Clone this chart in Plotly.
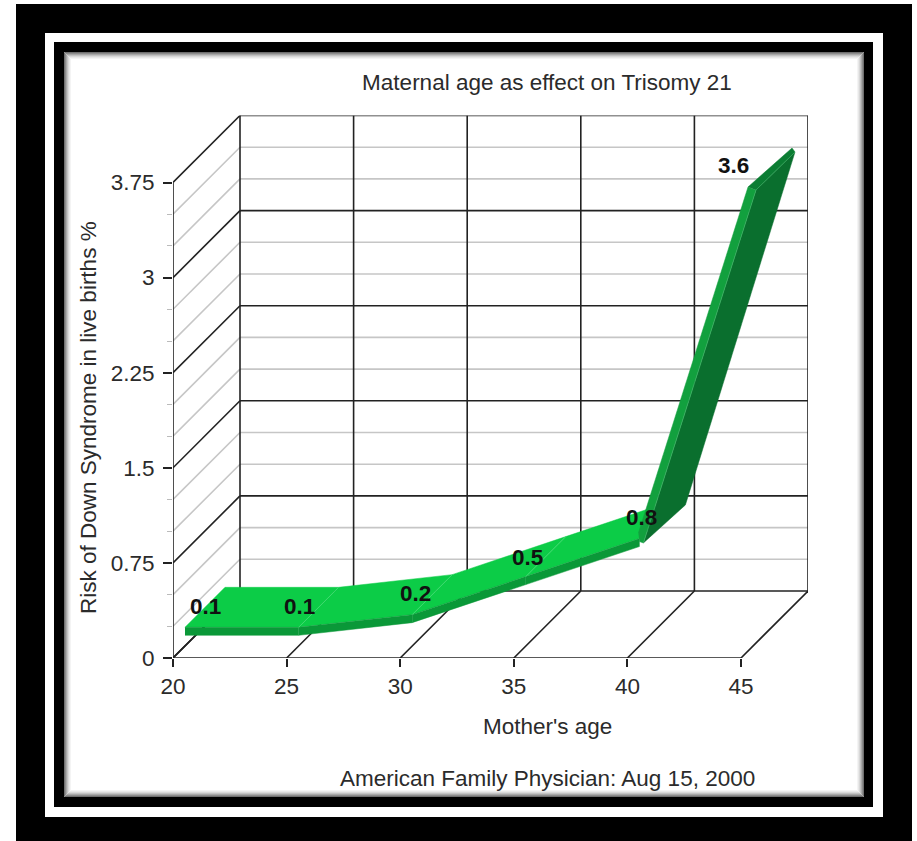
import plotly.graph_objects as go

# ---- data ----
ages = [20, 25, 30, 35, 40, 45]
risk = [0.1, 0.1, 0.2, 0.5, 0.8, 3.6]
risk_labels = ["0.1", "0.1", "0.2", "0.5", "0.8", "3.6"]
y_ticks = [0, 0.75, 1.5, 2.25, 3, 3.75]
y_minor = [0.25, 0.5, 1, 1.25, 1.75, 2, 2.5, 2.75, 3.25, 3.5]
chart_title = "Maternal age as effect on Trisomy 21"
x_title = "Mother's age"
y_title = "Risk of Down Syndrome in live births %"
source = "American Family Physician: Aug 15, 2000"

# ---- page geometry (pixels) ----
W, H = 917, 841
X_L, X_R, Y_B, Y_T = 173, 808, 658, 115.5
PX_PER_YEAR = 568 / 25
PX_PER_UNIT = 475.5 / 3.75
DEPTH = 67
FONT = "Liberation Sans, Arial, sans-serif"
INK = "#2b2b2b"
FS = 22.5


def ox(px):
    return px / PX_PER_YEAR


def oy(px):
    return px / PX_PER_UNIT


def px_x(p):
    return p / W


def px_y(p):
    return 1 - p / H


dx, dy = ox(DEPTH), oy(DEPTH)
fig = go.Figure()


def lines(segments, color, width):
    xs, ys = [], []
    for (x0, y0, x1, y1) in segments:
        xs += [x0, x1, None]
        ys += [y0, y1, None]
    fig.add_trace(go.Scatter(x=xs, y=ys, mode="lines", line=dict(color=color, width=width),
                             hoverinfo="skip", showlegend=False, cliponaxis=False))


def poly(pts, color):
    fig.add_trace(go.Scatter(x=[p[0] for p in pts], y=[p[1] for p in pts], mode="lines",
                             fill="toself", fillcolor=color, line=dict(color=color, width=0.5),
                             hoverinfo="skip", showlegend=False, cliponaxis=False))


# walls
x0, x1 = ages[0], ages[-1]
lines([(x0, v, x0 + dx, v + dy) for v in y_minor] + [(x0 + dx, v + dy, x1 + dx, v + dy) for v in y_minor],
      "#c6c6c6", 1.6)
major = [(x0, v, x0 + dx, v + dy) for v in y_ticks] + [(x0 + dx, v + dy, x1 + dx, v + dy) for v in y_ticks]
major += [(a, 0, a + dx, dy) for a in ages] + [(a + dx, dy, a + dx, 3.75 + dy) for a in ages]
major += [(x0, 0, x1, 0), (x0, 0, x0, 3.75)]
lines(major, "#222222", 1.6)

# ribbon corners, pixel offsets (right, down) from each plotted value
FT = (12, -18)
FB = (12, -10)
BT = (52, -58)
# bevel offsets of the rising last segment
R_FT = (11, -23.6)
R_SEAM = (18, -24)
R_FB = (16, -13.6)
R_CORNER = (12, -15)
R_BB = (58, -51.6)
T_FT = (7, -14.5)
T_FB = (15, -11.5)
T_BT = (51, -53.5)
T_BB = (54, -49.5)


def pt(i, off):
    return (ages[i] + ox(off[0]), risk[i] + oy(-off[1]))


BRIGHT, FRONT, MID, DARK, CAP = "#0ccc47", "#0a9838", "#12a03e", "#0a6f2e", "#0b7d33"
for i in range(4):
    poly([pt(i, FT), pt(i, BT), pt(i + 1, BT), pt(i + 1, FT)], BRIGHT)
    poly([pt(i, FT), pt(i + 1, FT), pt(i + 1, FB), pt(i, FB)], FRONT)
poly([pt(4, R_FB), pt(4, R_BB), pt(5, T_BB), pt(5, T_FB)], DARK)
poly([pt(4, R_FT), pt(5, T_FT), pt(5, T_FB), pt(4, R_FB), pt(4, R_CORNER)], MID)
poly([pt(5, T_FT), pt(5, T_BT), pt(5, T_BB), pt(5, T_FB)], CAP)
lines([(*pt(i, FT), *pt(i, BT)) for i in range(1, 4)], "#4fe07c", 0.7)
lines([(*pt(5, T_FB), *pt(5, T_BB)), (*pt(5, T_FB), *pt(4, R_FB))], "#3fae66", 0.7)

# ---- value labels ----
LABEL_XSHIFT = [32, 13, 15, 14, 14, -8]
LABEL_YSHIFT = [39, 39, 39, 37, 39, 36]
annotations = []
for a, v, t, xs, ys in zip(ages, risk, risk_labels, LABEL_XSHIFT, LABEL_YSHIFT):
    annotations.append(dict(x=a, y=v, text=f"<b>{t}</b>", xref="x", yref="y", showarrow=False,
                            xshift=xs, yshift=ys, font=dict(family=FONT, size=FS, color="#111")))
annotations.append(dict(x=px_x(547), y=px_y(726), xref="paper", yref="paper", text=x_title, showarrow=False,
                        xanchor="center", yanchor="middle", font=dict(family=FONT, size=FS, color=INK)))
annotations.append(dict(x=px_x(88), y=px_y(418), xref="paper", yref="paper", text=y_title, textangle=-90,
                        xanchor="center", yanchor="middle", showarrow=False,
                        font=dict(family=FONT, size=FS, color=INK)))
annotations.append(dict(x=px_x(547), y=px_y(778), xref="paper", yref="paper", text=source, showarrow=False,
                        xanchor="center", yanchor="middle", font=dict(family=FONT, size=FS, color=INK)))


# ---- frame ----
def rect(l, t, r, b, fill=None, line=None, width=0):
    return dict(type="rect", xref="paper", yref="paper", layer="below",
                x0=px_x(l), x1=px_x(r), y0=px_y(t), y1=px_y(b),
                fillcolor=fill if fill else "rgba(0,0,0,0)",
                line=dict(color=line if line else "rgba(0,0,0,0)", width=width))


shapes = [rect(16, 4, 912, 841, "#000"), rect(45, 33, 883, 817, "#fff"),
          rect(54, 42, 873, 807, "#000"), rect(64, 52, 864, 797, "#fff")]
for k, g in enumerate(["#707070", "#8c8c8c", "#a8a8a8", "#c2c2c2", "#d8d8d8", "#e8e8e8", "#f4f4f4"]):
    shapes.append(rect(64 + k + 0.5, 52 + k + 0.5, 864 - k - 0.5, 797 - k - 0.5, None, g, 1))

fig.update_layout(
    width=W, height=H, autosize=False, margin=dict(l=0, r=0, t=0, b=0, autoexpand=False),
    paper_bgcolor="#fff", plot_bgcolor="rgba(0,0,0,0)", showlegend=False,
    font=dict(family=FONT, color=INK),
    title=dict(text=chart_title, x=px_x(547), y=px_y(82), xref="paper", yref="paper",
               xanchor="center", yanchor="middle", font=dict(family=FONT, size=FS, color=INK)),
    xaxis=dict(domain=[px_x(X_L), px_x(X_R)], range=[x0, x1 + dx], tickmode="array", tickvals=ages,
               ticks="outside", ticklen=8, tickwidth=1.6, tickcolor="#222222", showgrid=False, zeroline=False,
               showline=False, tickfont=dict(family=FONT, size=FS, color=INK)),
    yaxis=dict(domain=[px_y(Y_B), px_y(Y_T)], range=[0, 3.75 + dy], tickmode="array", tickvals=y_ticks,
               ticktext=["0", "0.75", "1.5", "2.25", "3", "3.75"], ticklabelstandoff=4,
               ticks="outside", ticklen=9, tickwidth=1.6, tickcolor="#222222", showgrid=False, zeroline=False,
               showline=False, tickfont=dict(family=FONT, size=FS, color=INK),
               minor=dict(tickmode="array", tickvals=y_minor, ticks="outside", ticklen=5, tickcolor="#bbbbbb",
                          tickwidth=1, showgrid=False)),
    shapes=shapes, annotations=annotations,
)

fig.write_html("out.html", config={"displayModeBar": False},
               post_script="document.body.style.margin='0';document.body.style.overflow='hidden';")
